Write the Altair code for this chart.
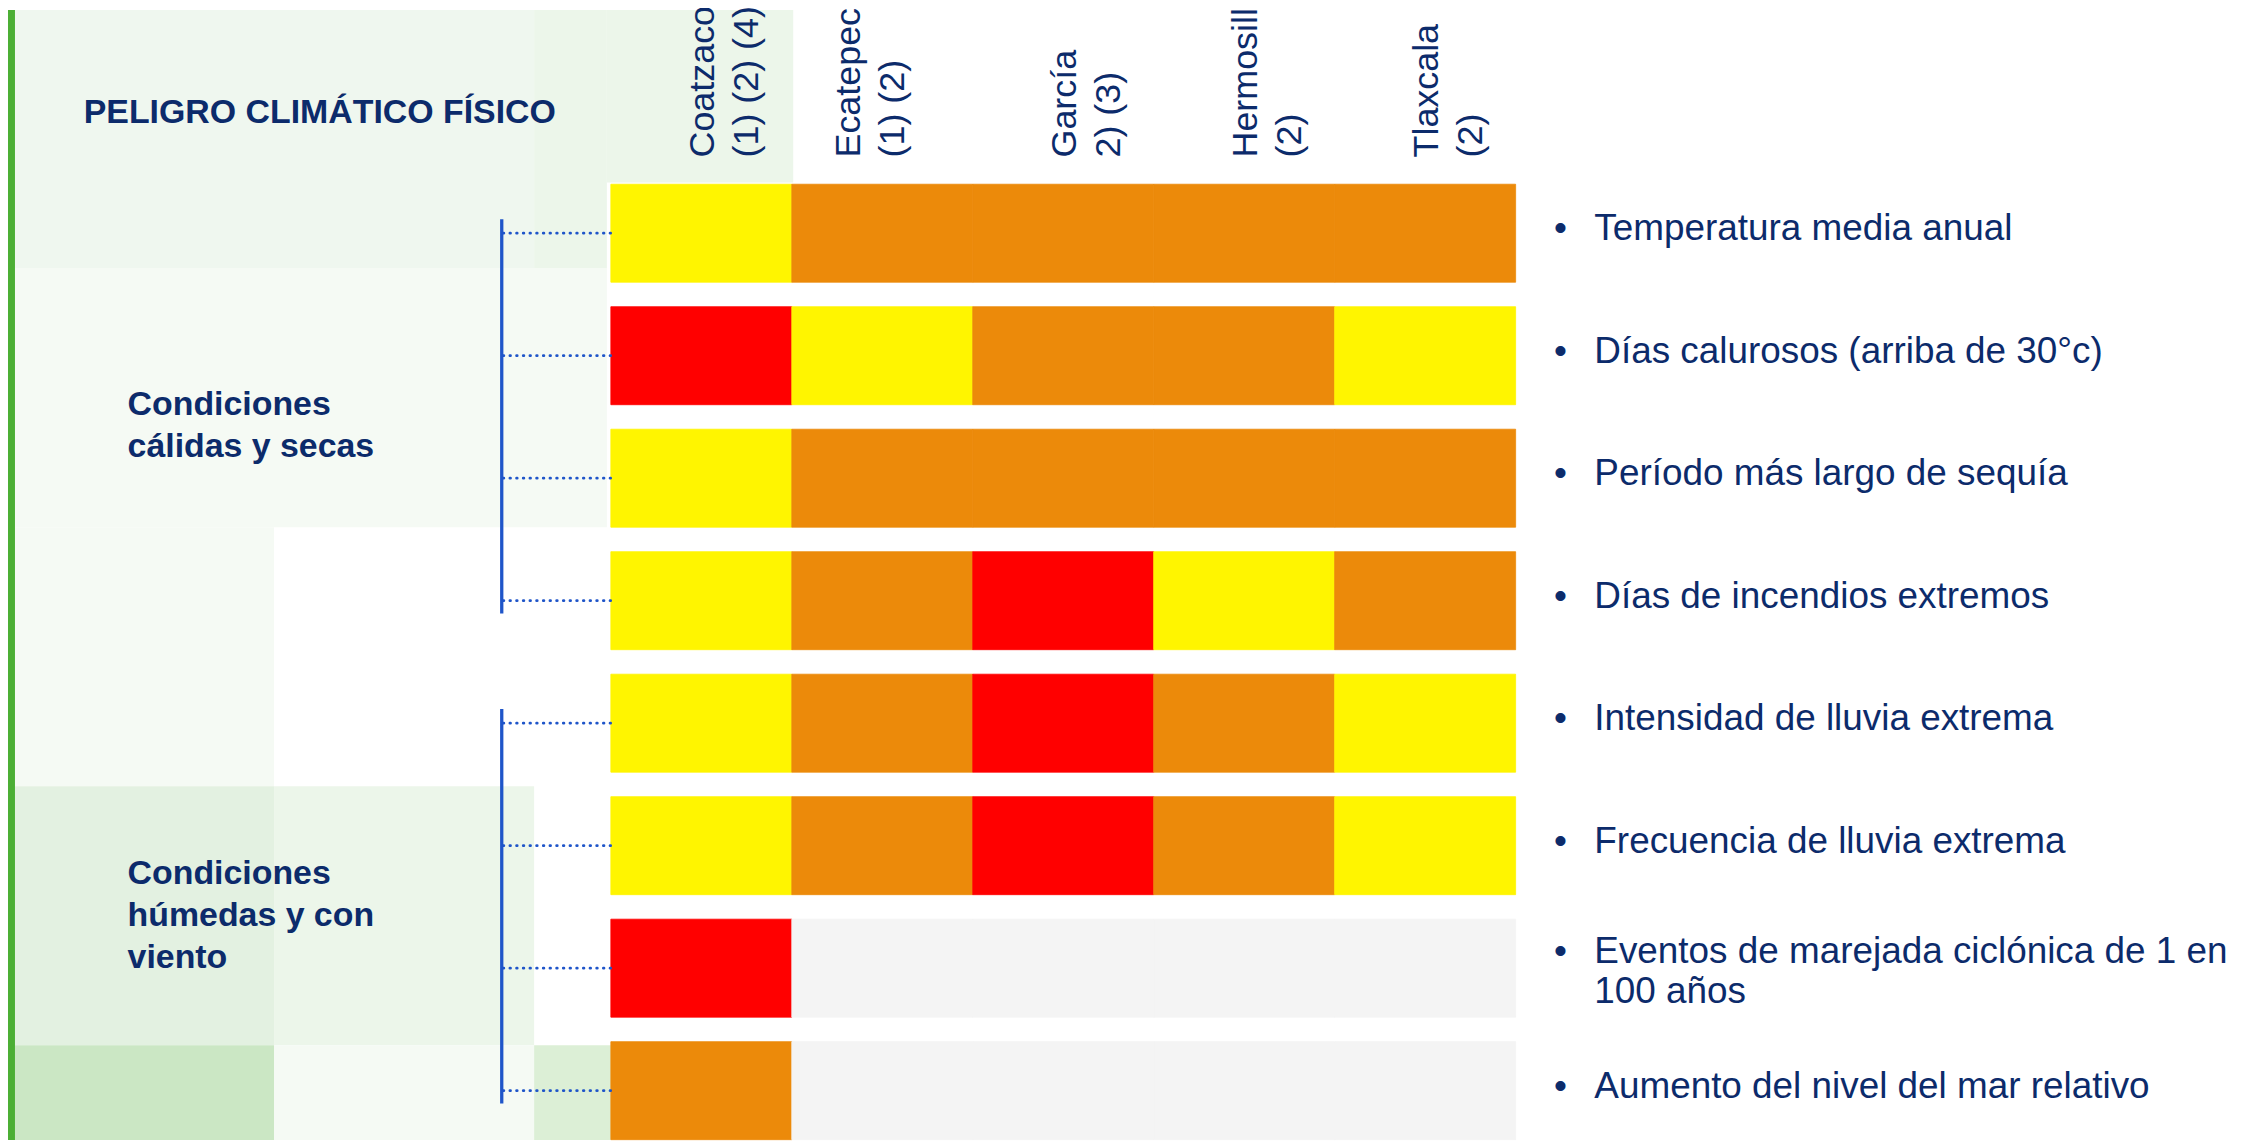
import altair as alt

# ---------------- data ----------------
cities = ["Coatzacoalcos", "Ecatepec", "García", "Hermosillo", "Tlaxcala"]
city_notes = ["(1) (2) (4) (5)", "(1) (2)", "2) (3)", "(2)", "(2)"]

hazards = [
    "Temperatura media anual",
    "Días calurosos (arriba de 30°c)",
    "Período más largo de sequía",
    "Días de incendios extremos",
    "Intensidad de lluvia extrema",
    "Frecuencia de lluvia extrema",
    "Eventos de marejada ciclónica de 1 en 100 años",
    "Aumento del nivel del mar relativo",
]
hazard_label_lines = [
    ["Temperatura media anual"],
    ["Días calurosos (arriba de 30°c)"],
    ["Período más largo de sequía"],
    ["Días de incendios extremos"],
    ["Intensidad de lluvia extrema"],
    ["Frecuencia de lluvia extrema"],
    ["Eventos de marejada ciclónica de 1 en", "100 años"],
    ["Aumento del nivel del mar relativo"],
]

group_names = ["Condiciones cálidas y secas", "Condiciones húmedas y con viento"]
group_label_lines = [["Condiciones", "cálidas y secas"],
                     ["Condiciones", "húmedas y con", "viento"]]
group_first = [0, 4]
group_last = [3, 7]

levels = ["Moderado", "Alto", "Muy alto", "Sin dato"]
level_colors = ["#FFF500", "#EC8A0A", "#FF0000", "#F4F4F4"]

# rows = hazards, columns = cities
hazard_levels = [
    ["Moderado", "Alto", "Alto", "Alto", "Alto"],
    ["Muy alto", "Moderado", "Alto", "Alto", "Moderado"],
    ["Moderado", "Alto", "Alto", "Alto", "Alto"],
    ["Moderado", "Alto", "Muy alto", "Moderado", "Alto"],
    ["Moderado", "Alto", "Muy alto", "Alto", "Moderado"],
    ["Moderado", "Alto", "Muy alto", "Alto", "Moderado"],
    ["Muy alto", "Sin dato", "Sin dato", "Sin dato", "Sin dato"],
    ["Alto", "Sin dato", "Sin dato", "Sin dato", "Sin dato"],
]

title_text = "PELIGRO CLIMÁTICO FÍSICO"

# ---------------- styling ----------------
NAVY = "#0C2B6B"
BLUE = "#1F55C9"
FONT = "Liberation Sans"
ROW_PITCH = 122.93  # px between row centres (matches y scale below)

cells = [
    {"city": c, "j": j, "hazard": h, "i": i, "level": hazard_levels[i][j]}
    for i, h in enumerate(hazards)
    for j, c in enumerate(cities)
]
headers = [{"city": c, "j": j, "lines": [c, n]} for j, (c, n) in enumerate(zip(cities, city_notes))]
rows = [{"hazard": h, "i": i, "lines": l, "n": len(l)}
        for i, (h, l) in enumerate(zip(hazards, hazard_label_lines))]
groups = [{"group": g, "first": f, "last": la, "lines": l, "n": len(l)}
          for g, f, la, l in zip(group_names, group_first, group_last, group_label_lines)]

xs = alt.Scale(domain=[0, 5], range=[605, 1513], zero=False, nice=False)
ys = alt.Scale(domain=[0, 7], range=[224, 1084.5], zero=False, nice=False)
color_scale = alt.Scale(domain=levels, range=level_colors)

one = alt.Data(values=[{}])


def deco(x0, x1, y0, y1, color):
    return alt.Chart(one).mark_rect(color=color).encode(
        x=alt.value(x0), x2=alt.value(x1), y=alt.value(y0), y2=alt.value(y1)
    )


# background tiles (page coords minus 8px margin)
decor = [
    deco(7, 267, 0, 259, "#EFF7EF"),
    deco(267, 528, 0, 259, "#EFF7EF"),
    deco(528, 601, 0, 259, "#ECF6EA"),
    deco(601, 788, 0, 173, "#ECF6EA"),
    deco(7, 601, 259, 519, "#F5FAF4"),
    deco(7, 267, 519, 779, "#F5FAF4"),
    deco(7, 267, 779, 1039, "#E3F1E1"),
    deco(267, 528, 779, 1039, "#ECF6EA"),
    deco(7, 267, 1039, 1134, "#CBE7C4"),
    deco(267, 528, 1039, 1134, "#F5FAF4"),
    deco(528, 605, 1039, 1134, "#DCEFD6"),
    deco(0, 7, 0, 1134, "#4CAF35"),
]

cell_layer = alt.Chart(alt.Data(values=cells)).transform_calculate(
    j2="datum.j + 1", y0="datum.i - 0.4", y1="datum.i + 0.4"
).mark_rect(strokeWidth=0.8).encode(
    x=alt.X("j:Q", scale=xs, axis=None),
    x2="j2:Q",
    y=alt.Y("y0:Q", scale=ys, axis=None),
    y2="y1:Q",
    color=alt.Color("level:N", scale=color_scale, legend=None),
    stroke=alt.Stroke("level:N", scale=color_scale, legend=None),
)

hdr_base = alt.Chart(alt.Data(values=headers)).transform_calculate(xc="datum.j + 0.5")
hdr_enc = dict(x=alt.X("xc:Q", scale=xs, axis=None), y=alt.value(148), text="lines:N")
hdr_main = hdr_base.transform_filter("datum.city != 'Ecatepec'").mark_text(
    angle=270, align="left", baseline="alphabetic", dy=13, fontSize=36,
    lineHeight=44, font=FONT, color=NAVY
).encode(**hdr_enc)
hdr_ecat = hdr_base.transform_filter("datum.city == 'Ecatepec'").mark_text(
    angle=270, align="left", baseline="alphabetic", dy=-22, fontSize=36,
    lineHeight=44, font=FONT, color=NAVY
).encode(**hdr_enc)

rows_base = alt.Chart(alt.Data(values=rows)).transform_calculate(
    ly=f"datum.i - (datum.n - 1) * 12 / {ROW_PITCH}"
)

row_labels = rows_base.mark_text(
    align="left", baseline="middle", dy=-4, fontSize=37, lineHeight=40, font=FONT, color=NAVY
).encode(x=alt.value(1592), y=alt.Y("ly:Q", scale=ys, axis=None), text="lines:N")

bullets = rows_base.mark_text(
    text="•", align="center", baseline="middle", dy=-4, fontSize=37, font=FONT, color=NAVY
).encode(x=alt.value(1558), y=alt.Y("ly:Q", scale=ys, axis=None))

connectors = alt.Chart(alt.Data(values=rows)).mark_rule(
    color=BLUE, strokeWidth=2.8, strokeDash=[0.6, 6.1], strokeCap="round"
).encode(x=alt.value(497), x2=alt.value(605), y=alt.Y("i:Q", scale=ys, axis=None))

brackets = alt.Chart(alt.Data(values=groups)).transform_calculate(
    top="datum.first - 0.115", bot="datum.last + 0.105"
).mark_rule(color=BLUE, strokeWidth=3.3).encode(
    x=alt.value(495.5), y=alt.Y("top:Q", scale=ys, axis=None), y2="bot:Q"
)

group_labels = alt.Chart(alt.Data(values=groups)).transform_calculate(
    gy=f"(datum.first + datum.last) / 2 - (datum.n - 1) * 21 / {ROW_PITCH}"
).mark_text(
    align="left", baseline="middle", dy=9, fontSize=34, fontWeight="bold",
    lineHeight=42, font=FONT, color=NAVY
).encode(x=alt.value(120), y=alt.Y("gy:Q", scale=ys, axis=None), text="lines:N")

title = alt.Chart(one).mark_text(
    align="left", baseline="alphabetic", fontSize=34, fontWeight="bold",
    font=FONT, color=NAVY, text=title_text
).encode(x=alt.value(76), y=alt.value(113))

chart = alt.layer(
    *decor, cell_layer, hdr_main, hdr_ecat, connectors, brackets,
    bullets, row_labels, group_labels, title
).properties(
    width=2252, height=1134, padding=0,
    autosize=alt.AutoSizeParams(type="none"), background="white"
).configure_view(stroke=None)

chart.save("out.html", embed_options={"renderer": "svg", "actions": False})
